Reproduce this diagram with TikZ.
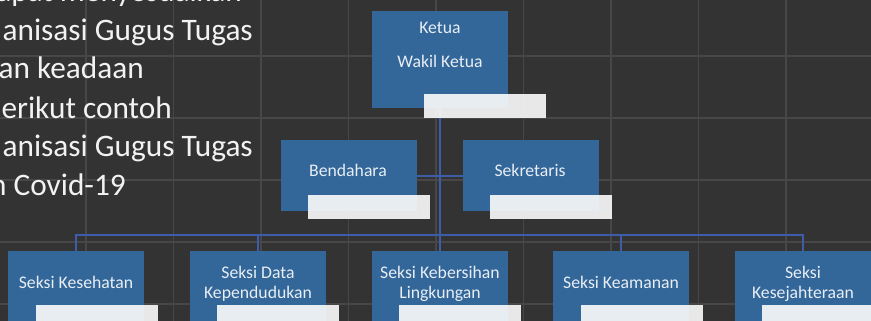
\documentclass[tikz,border=0pt]{standalone}
\usepackage{fontspec}
\setmainfont{Carlito}
\definecolor{bg}{HTML}{333333}
\definecolor{gridc}{HTML}{474747}
\definecolor{boxblue}{HTML}{336699}
\definecolor{linkc}{HTML}{3D5DAA}
\definecolor{boxtext}{HTML}{E8EEF4}
\definecolor{bigtext}{HTML}{F2F2F2}
\definecolor{overlayc}{HTML}{FCFCFC}
\begin{document}
\begin{tikzpicture}[x=1pt,y=-1pt,
 orgbox/.style={rectangle, fill=boxblue, inner sep=0pt, minimum width=136pt, minimum height=71pt, anchor=north west},
 tallbox/.style={orgbox, minimum height=97pt},
 patch/.style={rectangle, fill=overlayc, fill opacity=0.9, inner sep=0pt, minimum width=122pt, minimum height=24pt, anchor=north west},
 lbl/.style={text=boxtext, font=\fontsize{17.7}{20}\selectfont, align=center, inner sep=0pt},
 big/.style={text=bigtext, font=\fontsize{31.3}{39}\selectfont, inner sep=0pt, anchor=base east},
 link/.style={draw=linkc, line width=2.3pt},
 gridline/.style={draw=gridc, line width=1.2pt}]
\useasboundingbox (0,0) rectangle (871,321);
\fill[bg] (0,0) rectangle (871,321);
\foreach \x in {86,173.5,261,348.5,436,523.5,611,698.5,786} \draw[gridline] (\x,0) -- (\x,321);
\foreach \y in {56,118,180,242,304} \draw[gridline] (0,\y) -- (871,\y);
% left text
\node[big] (t1) at (242,1.5) {apat menyesuaikan};
\node[big] (t2) at (253,40.5) {anisasi Gugus Tugas};
\node[big] (t3) at (144,79) {an keadaan};
\node[big] (t4) at (172,118) {erikut contoh};
\node[big] (t5) at (253,157) {anisasi Gugus Tugas};
\node[big] (t6) at (126,195.5) {n Covid-19};
% boxes
\node[tallbox] (ketua) at (372,11) {};
\node[orgbox] (bend) at (281,140) {};
\node[orgbox] (sekr) at (463,140) {};
\node[orgbox] (s1) at (8,251) {};
\node[orgbox] (s2) at (190,251) {};
\node[orgbox] (s3) at (372,251) {};
\node[orgbox] (s4) at (553,251) {};
\node[orgbox] (s5) at (735,251) {};
% connectors
\coordinate (bus) at (440,235);
\draw[link] (ketua.south) -- (s3.north);
\draw[link] (bend.east) -- (sekr.west);
\draw[link] (s1.north) -- (s1.north |- bus) -- (s5.north |- bus) -- (s5.north);
\draw[link] (s2.north) -- (s2.north |- bus);
\draw[link] (s4.north) -- (s4.north |- bus);
% overlays
\node[patch] (p0) at (424,94) {};
\node[patch] (p1) at (308,195) {};
\node[patch] (p2) at (490,195) {};
\node[patch] (p3) at (36,305) {};
\node[patch] (p4) at (217,305) {};
\node[patch] (p5) at (399,305) {};
\node[patch] (p6) at (581,305) {};
\node[patch] (p7) at (762,305) {};
% labels
\node[lbl] (tk) at (440,28) {Ketua};
\node[lbl] (tw) at (440,61) {Wakil Ketua};
\node[lbl] (tb) at (348,170.5) {Bendahara};
\node[lbl] (ts) at (530,170.5) {Sekretaris};
\node[lbl] (l1) at (76,282) {Seksi Kesehatan};
\node[lbl] (l2) at (258,283.5) {Seksi Data\\Kependudukan};
\node[lbl] (l3) at (440,283.5) {Seksi Kebersihan\\Lingkungan};
\node[lbl] (l4) at (621,282) {Seksi Keamanan};
\node[lbl] (l5) at (803,283.5) {Seksi\\Kesejahteraan};
\end{tikzpicture}
\end{document}
